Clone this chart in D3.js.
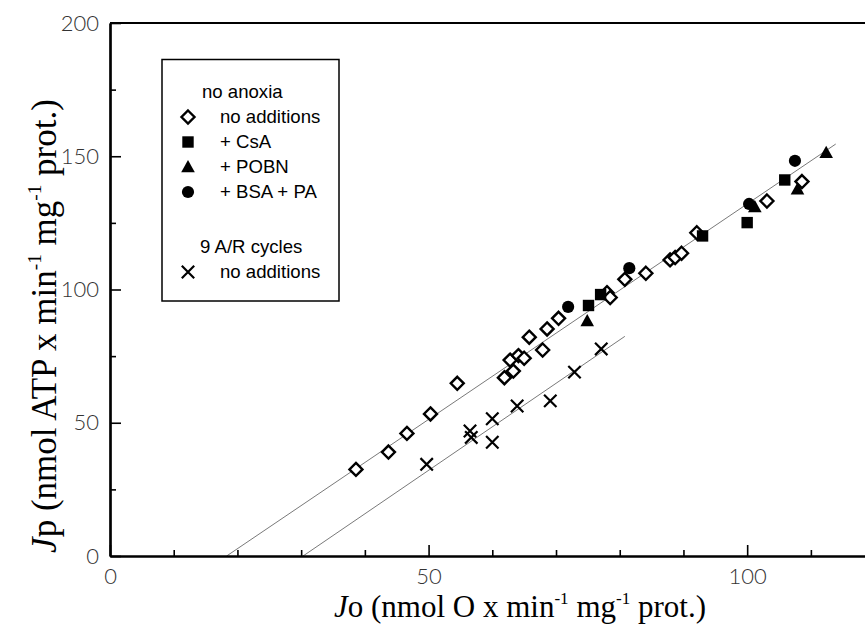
<!DOCTYPE html>
<html><head><meta charset="utf-8">
<script src="https://cdn.jsdelivr.net/npm/d3@7"></script>
<style>
html,body{margin:0;padding:0;background:#fff;}
svg{display:block;}
</style></head>
<body>
<svg id="chart" width="865" height="625"></svg>
<script>
// ---- data ----
const noAnoxiaNoAdd = [
  [38.6,32.5],[43.7,39.0],[46.6,46.0],[50.3,53.3],[54.5,64.8],[61.9,66.9],[63.3,69.4],
  [62.8,73.5],[64.1,75.2],[65.0,74.2],[65.8,82.1],[67.9,77.3],[68.6,85.2],[70.4,89.2],
  [78.0,98.8],[78.5,97.0],[80.8,103.8],[84.1,106.1],[87.9,111.1],[88.7,112.0],[89.7,113.6],
  [92.1,121.3],[103.1,133.2],[108.6,140.5]
];
const csa = [[75.1,94.0],[77.0,98.1],[93.0,120.1],[100.0,125.1],[105.9,141.1]];
const pobn = [[74.9,88.2],[101.2,131.0],[107.9,137.6],[112.4,151.3]];
const bsaPa = [[71.9,93.5],[81.5,108.0],[100.3,132.1],[107.5,148.3]];
const arCycles = [
  [49.7,34.4],[56.5,46.9],[56.7,44.5],[60.0,51.5],[60.0,42.7],[63.9,56.3],
  [69.1,58.2],[72.9,69.0],[77.1,77.7]
];
// regression lines: [slope, intercept, xStart, xEnd]
const fitNoAnoxia = [1.617, -29.6, 18.3, 113.9];
const fitAR = [1.632, -49.45, 30.3, 80.8];

const xDomain = [0, 120];
const yDomain = [0, 200];
const xMajorTicks = [0, 50, 100];
const xMinorTicks = [10, 20, 30, 40, 60, 70, 80, 90, 110];
const yMajorTicks = [0, 50, 100, 150, 200];
const yMinorTicks = [25, 75, 125, 175];

const legendGroups = ["no anoxia", "9 A/R cycles"];
const legendItems = ["no additions", "+ CsA", "+ POBN", "+ BSA + PA", "no additions"];

// ---- layout ----
const svg = d3.select("#chart");
const mLeft = 110, mRight = 874.6, mTop = 23, mBottom = 556;
const x = d3.scaleLinear().domain(xDomain).range([mLeft, mRight]);
const y = d3.scaleLinear().domain(yDomain).range([mBottom, mTop]);

// fit lines
function drawFit(f) {
  const pts = [f[2], f[3]].map(v => [v, f[0] * v + f[1]]);
  svg.append("path")
    .attr("d", d3.line().x(d => x(d[0])).y(d => y(d[1]))(pts))
    .attr("fill", "none").attr("stroke", "#6a6a6a").attr("stroke-width", 0.9);
}
drawFit(fitNoAnoxia);
drawFit(fitAR);

// marker shapes
const shapes = {
  diamond: (g) => g.append("path").attr("d", "M0,-6.5L6.5,0L0,6.5L-6.5,0Z")
      .attr("fill", "#fff").attr("stroke", "#000").attr("stroke-width", 2.4),
  square: (g) => g.append("rect").attr("x", -5.7).attr("y", -5.7).attr("width", 11.4).attr("height", 11.4)
      .attr("fill", "#000"),
  triangle: (g) => g.append("path").attr("d", "M0,-7L6.8,5.3L-6.8,5.3Z").attr("fill", "#000"),
  circle: (g) => g.append("circle").attr("r", 6.1).attr("fill", "#000"),
  cross: (g) => g.append("path").attr("d", "M-6.2,-6.2L6.2,6.2M-6.2,6.2L6.2,-6.2")
      .attr("stroke", "#000").attr("stroke-width", 2.2).attr("fill", "none")
};

function drawSeries(data, shape) {
  svg.append("g").selectAll("g").data(data).join("g")
    .attr("transform", d => `translate(${x(d[0])},${y(d[1])})`)
    .each(function () { shapes[shape](d3.select(this)); });
}
drawSeries(arCycles, "cross");
drawSeries(noAnoxiaNoAdd, "diamond");
drawSeries(csa, "square");
drawSeries(pobn, "triangle");
drawSeries(bsaPa, "circle");

// axes
const tickFont = "Lato, 'DejaVu Sans', sans-serif";
const xAxisMajor = d3.axisBottom(x).tickValues(xMajorTicks).tickSizeInner(-11).tickSizeOuter(0).tickPadding(12);
const xAxisMinor = d3.axisBottom(x).tickValues(xMinorTicks).tickSizeInner(-6).tickSizeOuter(0).tickFormat("");
const yAxisMajor = d3.axisLeft(y).tickValues(yMajorTicks).tickSizeInner(-11).tickSizeOuter(0).tickPadding(11);
const yAxisMinor = d3.axisLeft(y).tickValues(yMinorTicks).tickSizeInner(-6).tickSizeOuter(0).tickFormat("");

function styleAxis(g) {
  g.select(".domain").attr("stroke", "#000").attr("stroke-width", 2.2);
  g.selectAll(".tick line").attr("stroke", "#000").attr("stroke-width", 1.6);
  g.selectAll(".tick text").attr("fill", "#333").style("font-family", tickFont)
    .style("font-size", "22px").style("font-weight", 300);
}
svg.append("g").attr("transform", `translate(0,${mBottom})`).call(xAxisMinor).call(styleAxis);
svg.append("g").attr("transform", `translate(0,${mBottom})`).call(xAxisMajor).call(styleAxis);
svg.append("g").attr("transform", `translate(${mLeft},0)`).call(yAxisMinor).call(styleAxis);
svg.append("g").attr("transform", `translate(${mLeft},0)`).call(yAxisMajor).call(styleAxis);
// top frame line
svg.append("line").attr("x1", mLeft).attr("x2", mRight).attr("y1", mTop).attr("y2", mTop)
  .attr("stroke", "#000").attr("stroke-width", 2.2);

// axis titles
const serif = "'Liberation Serif', 'DejaVu Serif', serif";
function title(t, pre, parts, fs) {
  t.style("font-family", serif).style("font-size", fs + "px").attr("fill", "#000");
  t.append("tspan").style("font-style", "italic").text(pre);
  parts.forEach(p => {
    if (p.sup) {
      t.append("tspan").attr("dy", -fs * 0.42).style("font-size", (fs * 0.55) + "px").text(p.s);
      t.append("tspan").attr("dy", fs * 0.42).text("\u00a0");
    } else {
      t.append("tspan").text(p.s);
    }
  });
}
const xt = svg.append("text").attr("x", 520).attr("y", 617).attr("text-anchor", "middle");
title(xt, "J", [{s: "o (nmol O x min"}, {s: "-1", sup: true}, {s: "mg"}, {s: "-1", sup: true}, {s: "prot.)"}], 31);
const yt = svg.append("text").attr("transform", `translate(56,326) rotate(-90)`).attr("text-anchor", "middle");
title(yt, "J", [{s: "p (nmol ATP x min"}, {s: "-1", sup: true}, {s: "mg"}, {s: "-1", sup: true}, {s: "prot.)"}], 35);

// legend
const lg = svg.append("g");
lg.append("rect").attr("x", 162).attr("y", 59.5).attr("width", 177).attr("height", 241.5)
  .attr("fill", "#fff").attr("stroke", "#000").attr("stroke-width", 1.5);
const legFont = "'Liberation Sans', Arial, sans-serif";
const legendRows = [
  {t: legendGroups[0], yy: 98, xx: 202},
  {t: legendItems[0], yy: 123, xx: 220, shape: "diamond"},
  {t: legendItems[1], yy: 148, xx: 220, shape: "square"},
  {t: legendItems[2], yy: 173, xx: 220, shape: "triangle"},
  {t: legendItems[3], yy: 198, xx: 220, shape: "circle"},
  {t: legendGroups[1], yy: 253, xx: 200},
  {t: legendItems[4], yy: 278, xx: 220, shape: "cross"}
];
legendRows.forEach(r => {
  lg.append("text").attr("x", r.xx).attr("y", r.yy).text(r.t)
    .style("font-family", legFont).style("font-size", "18.6px").attr("fill", "#000");
  if (r.shape) {
    const g = lg.append("g").attr("transform", `translate(188,${r.yy - 6})`);
    shapes[r.shape](g);
  }
});
</script>
</body></html>
